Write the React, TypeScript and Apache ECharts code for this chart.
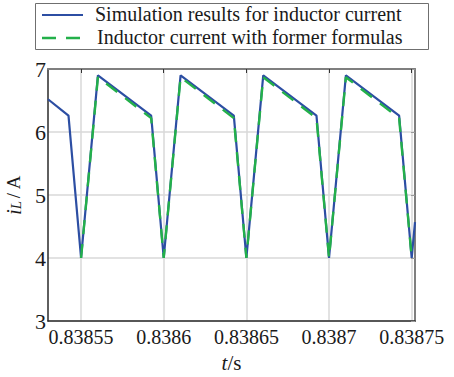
import React, { useEffect, useRef } from "react";
import * as echarts from "echarts";

const xTicks = [0.83855, 0.8386, 0.83865, 0.8387, 0.83875];
const yTicks = [3, 4, 5, 6, 7];

const simTime = [
  0.83853, 0.8385424, 0.83855, 0.8385602, 0.8385924, 0.8386, 0.8386102, 0.8386424,
  0.83865, 0.8386602, 0.8386924, 0.8387, 0.8387102, 0.8387424, 0.83875, 0.838752,
];
const simCurrent = [
  6.52, 6.26, 4.0, 6.9, 6.26, 4.0, 6.9, 6.26,
  4.0, 6.9, 6.26, 4.0, 6.9, 6.26, 4.0, 4.57,
];

const formulaTime = [
  0.83855, 0.8385602, 0.8385924, 0.8386, 0.8386102, 0.8386424,
  0.83865, 0.8386602, 0.8386924, 0.8387, 0.8387102, 0.8387424, 0.83875,
];
const formulaCurrent = [
  4.0, 6.87, 6.22, 4.0, 6.87, 6.22,
  4.0, 6.87, 6.22, 4.0, 6.87, 6.22, 4.0,
];

const seriesNames = [
  "Simulation results for inductor current",
  "Inductor current with former formulas",
];

const SERIF = "Liberation Serif";
const BLUE = "#2c4ea3";
const GREEN = "#23b04a";
const TXT = "#1a1a1a";

export default function App() {
  const ref = useRef<HTMLDivElement>(null);
  useEffect(() => {
    document.body.style.margin = "0";
    if (!ref.current) return;
    const chart = echarts.init(ref.current, undefined, { renderer: "svg" });
    const xMin = 0.83853;
    const xMax = 0.838752;
    chart.setOption({
      animation: false,
      backgroundColor: "#ffffff",
      textStyle: { fontFamily: SERIF, color: TXT },
      grid: { left: 48, right: 39, top: 69, bottom: 56, outerBoundsMode: "none", containLabel: false },
      graphic: [
        {
          type: "rect",
          left: 35,
          top: 3,
          shape: { width: 393, height: 46 },
          style: { fill: "#ffffff", stroke: "#6f6f6f", lineWidth: 1 },
          z: 10,
        },
        {
          type: "line",
          shape: { x1: 42, y1: 15, x2: 83, y2: 15 },
          style: { stroke: BLUE, lineWidth: 2.2 },
          z: 11,
        },
        {
          type: "line",
          shape: { x1: 42, y1: 38, x2: 83, y2: 38 },
          style: { stroke: GREEN, lineWidth: 2.4, lineDash: [14, 10] },
          z: 11,
        },
        {
          type: "text",
          left: 95,
          top: 4,
          style: { text: seriesNames[0], fontFamily: SERIF, fontSize: 20, fill: TXT },
          z: 11,
        },
        {
          type: "text",
          left: 97,
          top: 27,
          style: { text: seriesNames[1], fontFamily: SERIF, fontSize: 20, fill: TXT },
          z: 11,
        },
      ],
      xAxis: [
        {
          type: "value",
          min: xMin,
          max: xMax,
          name: "{t|t}{n|/s}",
          nameLocation: "middle",
          nameGap: 31,
          nameTextStyle: {
            fontFamily: SERIF,
            rich: {
              t: { fontFamily: SERIF, fontSize: 21, fontStyle: "italic", color: TXT },
              n: { fontFamily: SERIF, fontSize: 21, color: TXT },
            },
          },
          axisLine: { show: true, lineStyle: { color: "#2a2a2a", width: 1.5 } },
          axisTick: { show: false, customValues: xTicks },
          axisLabel: {
            customValues: xTicks,
            fontFamily: SERIF,
            fontSize: 20,
            color: TXT,
            margin: 6,
            formatter: (v: number) => "{a|" + String(+v.toFixed(5)) + "}",
            rich: { a: { fontFamily: SERIF, fontSize: 20, color: TXT } },
          },
          splitLine: { show: true, lineStyle: { color: "#d8d8d8", width: 1.5 } },
        },
        {
          type: "value",
          position: "top",
          min: xMin,
          max: xMax,
          axisLine: { show: true, onZero: false, lineStyle: { color: "#7f7f7f", width: 2 } },
          axisTick: { show: true, inside: true, length: 4, customValues: xTicks, lineStyle: { color: "#333" } },
          axisLabel: { show: false, customValues: xTicks },
          splitLine: { show: false },
        },
      ],
      yAxis: [
        {
          type: "value",
          min: 3,
          max: 7,
          interval: 1,
          name: "{i|i}{l|L}{n|/ A}",
          nameLocation: "middle",
          nameGap: 22,
          nameTextStyle: {
            fontFamily: SERIF,
            rich: {
              i: { fontFamily: SERIF, fontSize: 21, fontStyle: "italic", color: TXT },
              l: { fontFamily: SERIF, fontSize: 15, fontStyle: "italic", color: TXT, padding: [5, 2, 0, 0] },
              n: { fontFamily: SERIF, fontSize: 19, color: TXT },
            },
          },
          axisLine: { show: true, lineStyle: { color: "#2a2a2a", width: 1.5 } },
          axisTick: { show: false },
          axisLabel: {
            fontFamily: SERIF,
            fontSize: 22,
            color: TXT,
            margin: 2,
            customValues: yTicks,
            formatter: (v: number) => "{a|" + String(v) + "}",
            rich: { a: { fontFamily: SERIF, fontSize: 22, color: TXT } },
          },
          splitLine: { show: true, lineStyle: { color: "#d8d8d8", width: 1.5 } },
        },
        {
          type: "value",
          position: "right",
          min: 3,
          max: 7,
          interval: 1,
          axisLine: { show: true, onZero: false, lineStyle: { color: "#7f7f7f", width: 2 } },
          axisTick: { show: true, inside: true, length: 4, lineStyle: { color: "#999" } },
          axisLabel: { show: false },
          splitLine: { show: false },
        },
      ],
      series: [
        {
          name: seriesNames[0],
          type: "line",
          symbol: "none",
          data: simTime.map((t, i) => [t, simCurrent[i]]),
          lineStyle: { color: BLUE, width: 2.2 },
          itemStyle: { color: BLUE },
          z: 2,
        },
        {
          name: seriesNames[1],
          type: "line",
          symbol: "none",
          data: formulaTime.map((t, i) => [t, formulaCurrent[i]]),
          lineStyle: { color: GREEN, width: 2.4, type: [14, 10] },
          itemStyle: { color: GREEN },
          z: 3,
        },
      ],
    });
    return () => chart.dispose();
  }, []);
  return <div ref={ref} style={{ width: 454, height: 377 }} />;
}
